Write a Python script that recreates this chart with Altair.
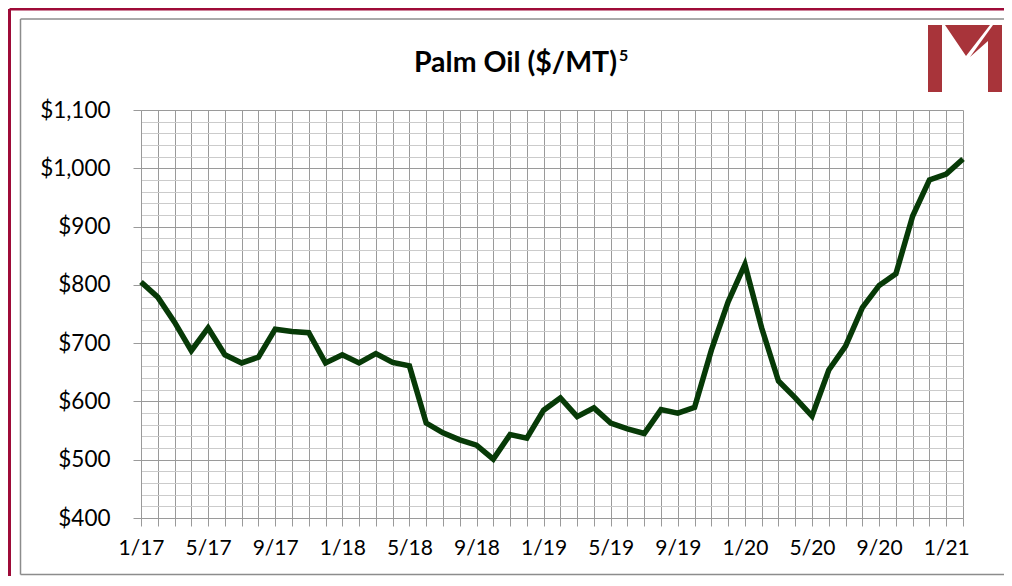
import altair as alt
import pandas as pd
import json

# ---- data ----
months = ["1/17", "2/17", "3/17", "4/17", "5/17", "6/17", "7/17", "8/17", "9/17", "10/17", "11/17", "12/17",
          "1/18", "2/18", "3/18", "4/18", "5/18", "6/18", "7/18", "8/18", "9/18", "10/18", "11/18", "12/18",
          "1/19", "2/19", "3/19", "4/19", "5/19", "6/19", "7/19", "8/19", "9/19", "10/19", "11/19", "12/19",
          "1/20", "2/20", "3/20", "4/20", "5/20", "6/20", "7/20", "8/20", "9/20", "10/20", "11/20", "12/20",
          "1/21", "2/21"]
prices = [805, 779, 736, 687, 726, 680, 666, 676, 724, 720, 718, 666,
          680, 666, 682, 667, 661, 563, 546, 534, 525, 501, 543, 537,
          585, 606, 574, 589, 563, 553, 545, 586, 580, 590, 688, 771,
          835, 726, 635, 606, 575, 654, 695, 761, 799, 819, 918, 980,
          990, 1016]
y_ticks = list(range(400, 1101, 20))
title_main = "Palm Oil ($/MT)"
title_sup = "5"

df = pd.DataFrame({"idx": list(range(len(months))), "month": months, "price": prices})

FONT = "Lato"
GRID = "#9a9a9a"
MINOR = "#cbcbcb"
MAROON = "#9e0b38"
LOGO = "#a8343a"
LINE = "#073a07"

label_arr = json.dumps(months).replace('"', "'")
x_label_expr = f"datum.value % 4 == 0 ? {label_arr}[datum.value] : ''"

x_enc = alt.X("idx:Q",
              scale=alt.Scale(domain=[0, len(months) - 1], nice=False, zero=False),
              axis=alt.Axis(values=list(range(len(months))), labelExpr=x_label_expr, title=None,
                            grid=True, gridColor=GRID, gridWidth=1,
                            domainColor=GRID, tickColor=GRID, tickSize=8,
                            labelFont=FONT, labelFontSize=21, labelColor="black",
                            labelPadding=11, labelOverlap=False, labelFlush=False, labelBound=False))
y_enc = alt.Y("price:Q",
              scale=alt.Scale(domain=[400, 1100], nice=False, zero=False),
              axis=alt.Axis(values=y_ticks, title=None,
                            labelExpr="datum.value % 100 == 0 ? '$' + format(datum.value, ',') : ''",
                            grid=True,
                            gridColor=alt.condition("datum.value % 100 == 0", alt.value(GRID), alt.value(MINOR)),
                            tickOpacity=alt.condition("datum.value % 100 == 0", alt.value(1), alt.value(0)),
                            domainColor=GRID, tickColor=GRID, tickSize=8,
                            labelFont=FONT, labelFontSize=22.5, labelColor="black",
                            labelPadding=23, labelOverlap=False, labelFlush=False, labelBound=False))

line = alt.Chart(df).mark_line(color=LINE, strokeWidth=5.5).encode(x=x_enc, y=y_enc)

one = pd.DataFrame({"k": [0]})

def rule(x1, y1, x2, y2, color, w):
    return alt.Chart(one).mark_rule(color=color, strokeWidth=w).encode(
        x=alt.value(x1), y=alt.value(y1), x2=alt.value(x2), y2=alt.value(y2))

# frame (plot origin is at page x=141, y=110)
frame = (rule(-131.5, -101, 870, -101, MAROON, 3) +
         rule(-131.5, -101, -131.5, 480, MAROON, 3) +
         rule(-120.5, -91, 870, -91, "#8c8c8c", 1.5) +
         rule(-120.5, -91, -120.5, 464.5, "#8c8c8c", 1.5) +
         rule(-120.5, 464.5, 870, 464.5, "#8c8c8c", 1.5))

title1 = alt.Chart(one).mark_text(text=title_main, font=FONT, fontSize=28.5, fontWeight="bold",
                                  align="right", baseline="alphabetic", color="black").encode(
    x=alt.value(476), y=alt.value(-38))
title2 = alt.Chart(one).mark_text(text=title_sup, font=FONT, fontSize=16, fontWeight="bold",
                                  align="left", baseline="alphabetic", color="black").encode(
    x=alt.value(478), y=alt.value(-49))

logo_path = ("M -38 -33 L -24 -33 L -24 34 L -38 34 Z "
             "M -21 -33 L 24 -33 L 0 -2 Z "
             "M 27 -33 L 36 -33 L 36 34 L 22 34 L 22 -17 L 4 -1 Z")
logo = alt.Chart(one).mark_point(shape=logo_path, size=4, filled=True, color=LOGO, opacity=1,
                                 strokeWidth=0).encode(x=alt.value(825), y=alt.value(-52))

chart = alt.layer(frame, line, title1, title2, logo).properties(
    width=822, height=408,
    padding={"left": 133, "top": 102, "right": 41, "bottom": 58},
    autosize=alt.AutoSizeParams(type="none"),
    background="white",
).configure_view(stroke=None)

chart.save("out.html", embed_options={"renderer": "svg", "actions": False})
